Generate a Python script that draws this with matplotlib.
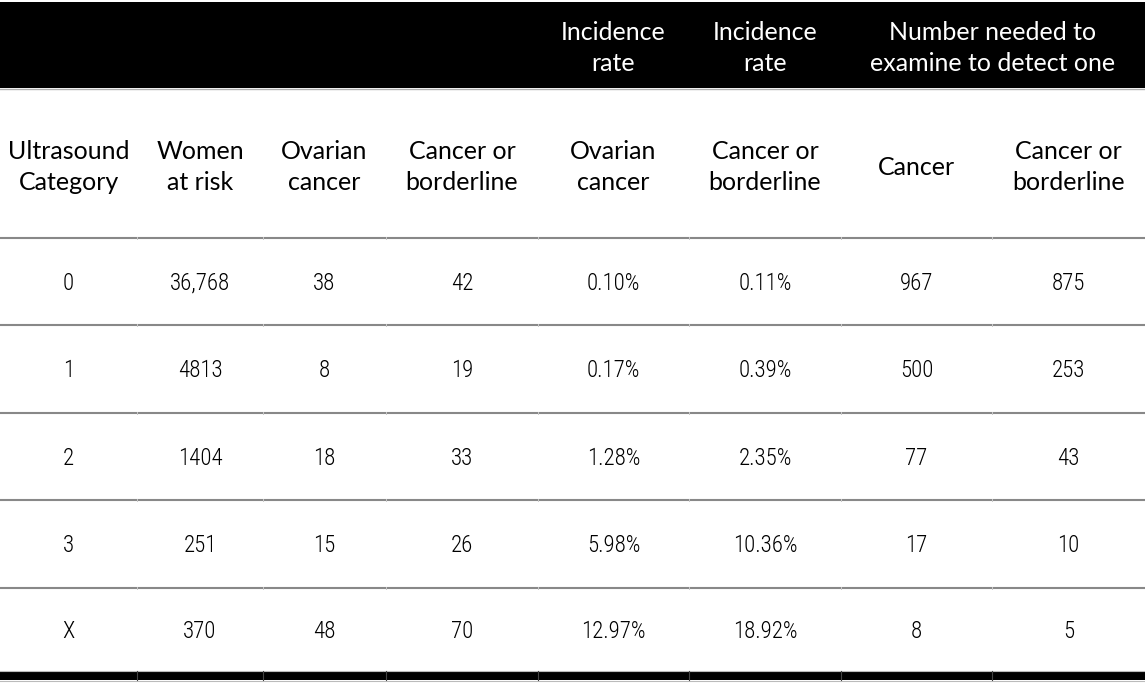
import matplotlib
matplotlib.use("Agg")
import matplotlib.pyplot as plt
from matplotlib.patches import Rectangle
from matplotlib import font_manager

# table content
group_headers = ["", "", "", "", "Incidence\nrate", "Incidence\nrate", "Number needed to\nexamine to detect one"]
col_headers = ["Ultrasound\nCategory", "Women\nat risk", "Ovarian\ncancer", "Cancer or\nborderline",
               "Ovarian\ncancer", "Cancer or\nborderline", "Cancer", "Cancer or\nborderline"]
categories = ["0", "1", "2", "3", "X"]
women_at_risk = ["36,768", "4813", "1404", "251", "370"]
ovarian_cancer = ["38", "8", "18", "15", "48"]
cancer_or_borderline = ["42", "19", "33", "26", "70"]
incidence_ovarian = ["0.10%", "0.17%", "1.28%", "5.98%", "12.97%"]
incidence_borderline = ["0.11%", "0.39%", "2.35%", "10.36%", "18.92%"]
nne_cancer = ["967", "500", "77", "17", "8"]
nne_borderline = ["875", "253", "43", "10", "5"]

columns = [categories, women_at_risk, ovarian_cancer, cancer_or_borderline,
           incidence_ovarian, incidence_borderline, nne_cancer, nne_borderline]

W, H = 1145, 691
col_edges = [0, 137, 263, 386, 538, 689, 841, 992, 1145]
row_lines = [238, 325, 413, 500, 588]
row_centers = [283, 370, 458, 545, 632]

# pick the narrowest font we have for the body numbers
installed = {f.name for f in font_manager.fontManager.ttflist}
body_font = "DejaVu Sans"
for name in ["Roboto Condensed", "Liberation Sans Narrow", "DejaVu Sans Condensed", "Roboto"]:
    if name in installed:
        body_font = name
        break
weights = {f.weight for f in font_manager.fontManager.ttflist if f.name == body_font}
body_weight = "light" if 300 in weights else "normal"

fig = plt.figure(figsize=(W / 100, H / 100), dpi=100)
ax = fig.add_axes([0, 0, 1, 1])
ax.set_xlim(0, W)
ax.set_ylim(H, 0)
ax.axis("off")

head_font = ["Lato", "DejaVu Sans"]

# black header band
ax.add_patch(Rectangle((0, 2), W, 86, facecolor="black", edgecolor="none"))
ax.plot([0, W], [89, 89], color="#b0b0b0", lw=1)

centers = [(col_edges[i] + col_edges[i + 1]) / 2 for i in range(8)]
# group header texts
for x, label in [(centers[4], group_headers[4]), (centers[5], group_headers[5]),
                 ((col_edges[6] + col_edges[8]) / 2, group_headers[6])]:
    ax.text(x, 48, label, color="white", ha="center", va="center",
            fontsize=18, family=head_font, linespacing=1.45)

# column headers
for c, label in zip(centers, col_headers):
    ax.text(c, 167, label, ha="center", va="center", fontsize=18, family=head_font,
            linespacing=1.45, color="black")

# horizontal row lines
for y in row_lines:
    ax.plot([0, W], [y, y], color="#888888", lw=1.5, solid_capstyle="butt")
    for x in col_edges[1:-1]:
        ax.plot([x, x], [y - 1, y + 1], color="#c8c8c8", lw=0.7)

# body cells
for c, values in zip(centers, columns):
    for yc, v in zip(row_centers, values):
        ax.text(c, yc, v, ha="center", va="center", fontsize=16.5, family=body_font,
                weight=body_weight, color="black")

# bottom black band
ax.add_patch(Rectangle((0, 671), W, 9, facecolor="black", edgecolor="none"))
ax.plot([0, W], [670.5, 670.5], color="#bbbbbb", lw=0.8)
ax.plot([0, W], [680.5, 680.5], color="#bbbbbb", lw=0.8)
for x in col_edges[1:-1]:
    ax.plot([x, x], [671, 680], color="#444444", lw=0.8)

fig.savefig("out.png", dpi=100)
